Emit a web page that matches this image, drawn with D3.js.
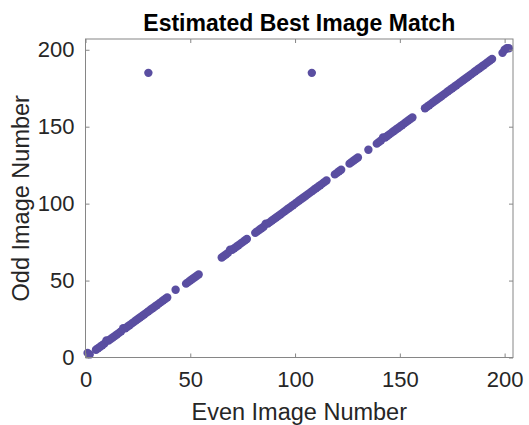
<!DOCTYPE html>
<html><head><meta charset="utf-8">
<script src="https://cdn.jsdelivr.net/npm/d3@7"></script>
<style>body{margin:0;background:#fff}svg{display:block}</style>
</head><body>
<svg id="c" width="529" height="425"></svg>
<script>
const title = "Estimated Best Image Match";
const xLabel = "Even Image Number";
const yLabel = "Odd Image Number";
const xTicks = [0, 50, 100, 150, 200];
const yTicks = [0, 50, 100, 150, 200];
const xDomain = [0, 204];
const yDomain = [0, 207];
const evenIdx = [1,2,5,6,7,8,9,10,11,12,13,14,15,16,17,18,19,20,21,22,23,24,25,26,27,28,29,30,31,32,33,34,35,36,37,38,39,
  43,48,49,50,51,52,53,54,
  65,66,67,68,69,70,71,72,73,74,75,76,77,
  81,82,83,84,85,86,87,88,89,90,91,92,93,94,95,96,97,98,99,100,101,102,103,104,105,106,107,108,109,110,111,112,113,114,115,
  119,120,121,122,126,127,128,129,130,135,
  139,140,141,142,143,144,145,146,147,148,149,150,151,152,153,154,155,156,
  162,163,164,165,166,167,168,169,170,171,172,173,174,175,176,177,178,179,180,181,182,183,184,185,186,187,188,189,190,191,192,193,194,
  199,200,201,202,
  30,108];
const oddIdx = [3,2,5,6,7,8,9,11,11,12,13,14,15,16,17,19,19,20,21,22,23,24,25,26,27,28,29,30,31,32,33,34,35,36,37,38,39,
  44,48,49,50,51,52,53,54,
  65,66,67,68,70,70,71,72,73,74,75,76,77,
  81,82,83,84,85,87,87,88,89,90,91,92,93,94,95,96,97,98,99,100,101,102,103,104,105,106,107,108,109,110,111,112,113,114,115,
  119,120,121,122,126,127,128,129,130,135,
  139,140,141,143,143,144,145,146,147,148,149,150,151,152,153,154,155,156,
  162,163,164,165,166,167,168,169,170,171,172,173,174,175,176,177,178,179,180,181,182,183,184,185,186,187,188,189,190,191,192,193,194,
  198,200,201,201,
  185,185];

const svg = d3.select("#c");
const m = {l:85.5, r:513, t:39, b:357.5};
const x = d3.scaleLinear().domain(xDomain).range([m.l, m.r]);
const y = d3.scaleLinear().domain(yDomain).range([m.b, m.t]);
const axisCol = "#868686", textCol = "#262626", font = "'Liberation Sans', Arial, sans-serif";

const pts = evenIdx.map((v,i)=>({x:v, y:oddIdx[i]}));
svg.append("g").selectAll("circle").data(pts).join("circle")
  .attr("cx", d=>x(d.x)).attr("cy", d=>y(d.y)).attr("r", 4.2)
  .attr("fill", "#5a4ea1");

function styleAxis(g){
  g.select(".domain").remove();
  g.selectAll(".tick line").attr("stroke", axisCol);
  g.selectAll(".tick text").attr("fill", textCol).style("font-family", font).style("font-size","22px");
}
svg.append("g").attr("transform",`translate(0,${m.b})`)
  .call(d3.axisBottom(x).tickValues(xTicks).tickSize(-4).tickPadding(14)).call(styleAxis);
svg.append("g").attr("transform",`translate(0,${m.t})`)
  .call(d3.axisTop(x).tickValues(xTicks).tickSize(-4).tickFormat("")).call(styleAxis);
svg.append("g").attr("transform",`translate(${m.l},0)`)
  .call(d3.axisLeft(y).tickValues(yTicks).tickSize(-4).tickPadding(11)).call(styleAxis);
svg.append("g").attr("transform",`translate(${m.r},0)`)
  .call(d3.axisRight(y).tickValues(yTicks).tickSize(-4).tickFormat("")).call(styleAxis);

svg.append("rect").attr("x", m.l).attr("y", m.t).attr("width", m.r-m.l).attr("height", m.b-m.t)
  .attr("fill","none").attr("stroke", axisCol).attr("stroke-width", 1);

svg.append("text").attr("x",(m.l+m.r)/2).attr("y",31).attr("text-anchor","middle")
  .style("font-family",font).style("font-size","23px").style("font-weight","bold").attr("fill","#000").text(title);
svg.append("text").attr("x",(m.l+m.r)/2).attr("y",420).attr("text-anchor","middle")
  .style("font-family",font).style("font-size","23.5px").attr("fill",textCol).text(xLabel);
svg.append("text").attr("transform",`translate(29,${(m.t+m.b)/2}) rotate(-90)`).attr("text-anchor","middle")
  .style("font-family",font).style("font-size","23.5px").attr("fill",textCol).text(yLabel);
</script>
</body></html>
